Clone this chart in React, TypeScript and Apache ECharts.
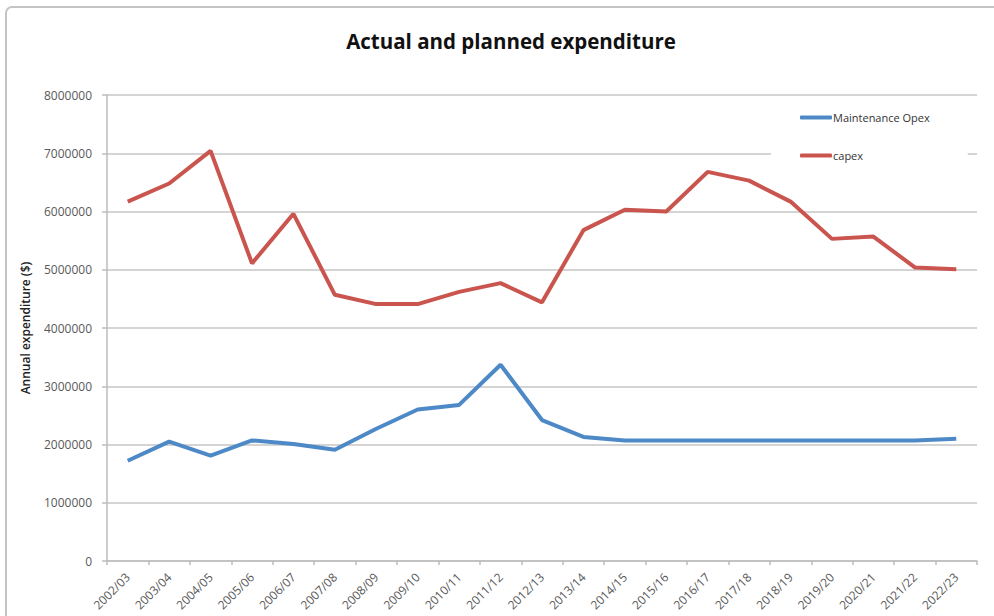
import React, { useEffect, useRef } from "react";
import * as echarts from "echarts";

const categories = [
  "2002/03", "2003/04", "2004/05", "2005/06", "2006/07", "2007/08", "2008/09",
  "2009/10", "2010/11", "2011/12", "2012/13", "2013/14", "2014/15", "2015/16",
  "2016/17", "2017/18", "2018/19", "2019/20", "2020/21", "2021/22", "2022/23",
];

const maintenanceOpex = [
  1720000, 2050000, 1810000, 2070000, 2010000, 1910000, 2270000, 2600000,
  2680000, 3370000, 2420000, 2130000, 2070000, 2070000, 2070000, 2070000,
  2070000, 2070000, 2070000, 2070000, 2100000,
];

const capex = [
  6170000, 6480000, 7040000, 5110000, 5960000, 4570000, 4410000, 4410000,
  4620000, 4770000, 4440000, 5680000, 6030000, 6000000, 6680000, 6530000,
  6170000, 5530000, 5570000, 5040000, 5010000,
];

const yMin = 0;
const yMax = 8000000;
const yInterval = 1000000;

export default function App() {
  const ref = useRef<HTMLDivElement>(null);
  useEffect(() => {
    if (!ref.current) return;
    const chart = echarts.init(ref.current, null, { renderer: "svg" });
    const font = "'Open Sans', 'Liberation Sans', sans-serif";
    chart.setOption({
      animation: false,
      backgroundColor: "#ffffff",
      title: {
        text: "Actual and planned expenditure",
        left: 506,
        top: 25,
        textAlign: "center",
        textStyle: {
          fontFamily: font,
          fontSize: 20.5,
          fontWeight: "bold",
          color: "#111111",
        },
      },
      graphic: [
        {
          type: "rect",
          shape: { x: 6, y: 7, width: 1000, height: 700, r: 6 },
          style: { fill: "none", stroke: "#c4c4c4", lineWidth: 2 },
          silent: true,
          z: -10,
        },
      ],
      legend: {
        orient: "vertical",
        left: 771,
        top: 102,
        padding: [10, 38, 10, 29],
        itemGap: 27,
        itemWidth: 32,
        itemHeight: 4,
        icon: "roundRect",
        backgroundColor: "#ffffff",
        textStyle: { fontFamily: font, fontSize: 11, color: "#333333", padding: [0, 0, 0, -4] },
        data: ["Maintenance Opex", "capex"],
        z: 10,
      },
      grid: { left: 107, right: 17, top: 95, bottom: 55, containLabel: false },
      xAxis: {
        type: "category",
        data: categories,
        boundaryGap: true,
        axisLine: { lineStyle: { color: "#bdbdbd", width: 1.5 } },
        axisTick: { show: true, alignWithLabel: false, length: 4, lineStyle: { color: "#bdbdbd", width: 1.5 } },
        axisLabel: {
          interval: 0,
          rotate: 45,
          margin: 14,
          fontFamily: font,
          fontSize: 12,
          color: "#595959",
        },
      },
      yAxis: {
        type: "value",
        min: yMin,
        max: yMax,
        interval: yInterval,
        name: "Annual expenditure ($)",
        nameLocation: "middle",
        nameRotate: 90,
        nameGap: 76,
        nameTextStyle: { fontFamily: font, fontSize: 12, fontWeight: 600, color: "#222222" },
        axisLine: { show: true, lineStyle: { color: "#bdbdbd", width: 1.5 } },
        axisTick: { show: true, length: 5, lineStyle: { color: "#bdbdbd", width: 1.5 } },
        axisLabel: {
          fontFamily: font,
          fontSize: 12,
          color: "#595959",
          margin: 15,
          formatter: (v: number) => String(v),
        },
        splitLine: { lineStyle: { color: "#c6c6c6", width: 1.5 } },
      },
      series: [
        {
          name: "Maintenance Opex",
          type: "line",
          data: maintenanceOpex,
          symbol: "none",
          color: "#4e89c7",
          lineStyle: { width: 4, color: "#4e89c7" },
        },
        {
          name: "capex",
          type: "line",
          data: capex,
          symbol: "none",
          color: "#c9554e",
          lineStyle: { width: 4, color: "#c9554e" },
        },
      ],
    });
    return () => chart.dispose();
  }, []);
  return (
    <div
      ref={ref}
      style={{ position: "fixed", left: 0, top: 0, width: 994, height: 616 }}
    />
  );
}
